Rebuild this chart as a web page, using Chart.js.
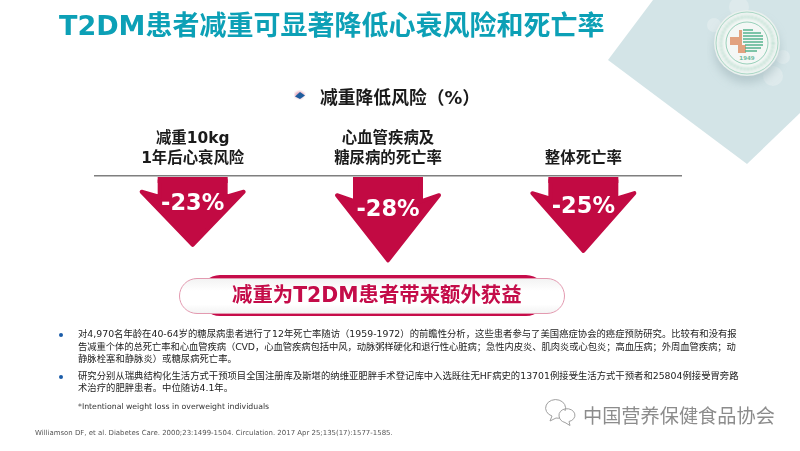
<!DOCTYPE html>
<html>
<head>
<meta charset="utf-8">
<script src="https://cdn.jsdelivr.net/npm/chart.js@4"></script>
<style>
html, body { margin: 0; padding: 0; background: #fff; }
body { width: 800px; height: 451px; position: relative; overflow: hidden; font-family: 'DejaVu Sans', 'Noto Sans CJK SC', sans-serif; }
.t { position: absolute; white-space: nowrap; line-height: 1; }
#deco { position: absolute; left: 0; top: 0; }
#chartBox { position: absolute; left: 0; top: 0; width: 800px; height: 451px; }
#title { left: 59px; top: 12px; font-size: 27px; font-weight: bold; color: #0ca0b6; }
#heading { left: 320px; top: 89px; font-size: 17.8px; font-weight: bold; color: #1a1a1a; }
#pillBack { position: absolute; left: 200px; top: 275px; width: 346px; height: 41px; border-radius: 20px; background: #c60c4a; }
#pillFront { position: absolute; left: 179px; top: 278px; width: 384px; height: 34px; border-radius: 18px; border: 1px solid #e39ab0; background: linear-gradient(#f3f3f3, #fff 35%, #fff 75%, #f3f3f3); }
#pillText { left: 232px; top: 285px; font-size: 20.4px; font-weight: bold; color: #c40c49; }
.small { font-size: 9.35px; color: #222; filter: blur(0.35px); }
.dot { position: absolute; width: 4px; height: 4px; border-radius: 50%; background: #1a5ca8; }
#note { left: 78px; top: 403px; font-size: 7.75px; color: #333; filter: blur(0.35px); }
#ref { left: 35px; top: 430px; font-size: 6.96px; color: #555; filter: blur(0.35px); }
#mark { left: 583px; top: 407px; font-size: 19.2px; color: #8c8c8c; }
</style>
</head>
<body>
<svg id="deco" width="800" height="451" viewBox="0 0 800 451">
  <defs>
    <radialGradient id="disc" cx="50%" cy="50%" r="50%">
      <stop offset="0.8" stop-color="#f4f7f5"/>
      <stop offset="1" stop-color="#e8efed"/>
    </radialGradient>
    <filter id="soft"><feGaussianBlur stdDeviation="5"/></filter>
    <filter id="tiny"><feGaussianBlur stdDeviation="1"/></filter>
  </defs>
  <polygon points="608,60 653,0 800,0 800,113 747,164" fill="#d3e4e7"/>
  <circle cx="739" cy="7" r="10" fill="#deeaec"/>
  <circle cx="714" cy="25" r="7" fill="#deeaec"/>
  <circle cx="783" cy="57" r="7" fill="#deeaec"/>
  <circle cx="773" cy="76" r="10" fill="#deeaec"/>
  <circle cx="747" cy="50" r="33" fill="#a9bec2" opacity="0.7" filter="url(#soft)"/>
  <circle cx="747" cy="43" r="33" fill="url(#disc)"/>
  <circle cx="747" cy="43" r="31" fill="none" stroke="#8ccbb2" stroke-width="0.7"/>
  <circle cx="747" cy="43" r="21" fill="none" stroke="#6fbf9f" stroke-width="0.7"/>
  <g filter="url(#tiny)" opacity="0.6">
    <circle cx="747" cy="43" r="26" fill="none" stroke="#8fcbb4" stroke-width="3.500" stroke-dasharray="2 1.500"/>
  </g>
  <path d="M739 30h3v8h-3zM730 37h12v8h-12zM738 45h8v8h-8z" fill="#e2a27f"/>
  <path d="M743 30h10M743 33h18M743 36h20M743 39h20M743 42h20M745 45h18M745 48h16M745 51h12" stroke="#55b48e" stroke-width="1.400"/>
  <text x="747" y="60" text-anchor="middle" font-size="5.500" font-weight="bold" fill="#6fbb9f">1949</text>
  <path d="M295 93l5 -2 5 3 -4 5 -6 -2z" fill="#e6a9bd" filter="url(#tiny)"/>
  <path d="M295 96.500l5 -4.500 5 3.500 -5 3.500z" fill="#1f5d9e"/>
  <g fill="none" stroke="#a0a0a0" stroke-width="1">
    <path d="M565 411a10 8.500 0 1 0 -13 5l-2 5 6 -3a11 11 0 0 0 4 0"/>
    <path d="M559 416a8 6.500 0 1 1 10 5.500l1 4 -5 -3a8 8 0 0 1 -6 -6.500z"/>
  </g>
</svg>
<div id="chartBox"><canvas id="riskChart"></canvas></div>
<div class="t" id="title">T2DM患者减重可显著降低心衰风险和死亡率</div>
<div class="t" id="heading">减重降低风险（%）</div>
<div id="pillBack"></div>
<div id="pillFront"></div>
<div class="t" id="pillText">减重为T2DM患者带来额外获益</div>
<div class="dot" style="left:59px;top:333px"></div>
<div class="t small" style="left:78px;top:329px">对4,970名年龄在40-64岁的糖尿病患者进行了12年死亡率随访（1959-1972）的前瞻性分析，这些患者参与了美国癌症协会的癌症预防研究。比较有和没有报</div>
<div class="t small" style="left:78px;top:342px;letter-spacing:-0.1px">告减重个体的总死亡率和心血管疾病（CVD，心血管疾病包括中风，动脉粥样硬化和退行性心脏病；急性内皮炎、肌肉炎或心包炎；高血压病；外周血管疾病；动</div>
<div class="t small" style="left:78px;top:354px">静脉栓塞和静脉炎）或糖尿病死亡率。</div>
<div class="dot" style="left:59px;top:375px"></div>
<div class="t small" style="left:78px;top:371px">研究分别从瑞典结构化生活方式干预项目全国注册库及斯堪的纳维亚肥胖手术登记库中入选既往无HF病史的13701例接受生活方式干预者和25804例接受胃旁路</div>
<div class="t small" style="left:78px;top:383px">术治疗的肥胖患者。中位随访4.1年。</div>
<div class="t" id="note">*Intentional weight loss in overweight individuals</div>
<div class="t" id="ref">Williamson DF, et al. Diabetes Care. 2000;23:1499-1504. Circulation. 2017 Apr 25;135(17):1577-1585.</div>
<div class="t" id="mark">中国营养保健食品协会</div>
<script>
const categories = [['减重10kg', '1年后心衰风险'], ['心血管疾病及', '糖尿病的死亡率'], '整体死亡率'];
const riskValues = [-23, -28, -25];

// 箭头: 柱子的位置和长度都取自 scale, 这里只画形状
const arrowPlugin = {
    id: 'arrows',
    afterDatasetsDraw(chart) {
        const ctx = chart.ctx;
        chart.getDatasetMeta(0).data.forEach((bar, i) => {
            let half = bar.width / 2;
            let shaft = half * 0.648;
            let len = bar.y - bar.base;
            let wingY = bar.base + len * 0.22;
            let notchY = bar.base + len * 0.29;
            ctx.save();
            ctx.fillStyle = '#c20a43';
            ctx.strokeStyle = '#c20a43';
            ctx.lineWidth = 4;
            ctx.lineJoin = 'round';
            ctx.beginPath();
            ctx.moveTo(bar.x - shaft + 2, bar.base + 4);
            ctx.lineTo(bar.x + shaft - 2, bar.base + 4);
            ctx.lineTo(bar.x + shaft - 2, notchY);
            ctx.lineTo(bar.x + half - 3, wingY);
            ctx.lineTo(bar.x, bar.y - 3);
            ctx.lineTo(bar.x - half + 3, wingY);
            ctx.lineTo(bar.x - shaft + 2, notchY);
            ctx.closePath();
            ctx.fill();
            ctx.stroke();
            // 顶部是直角, 贴着轴线
            ctx.fillRect(bar.x - shaft, bar.base + 1, shaft * 2, 6);
            ctx.fillStyle = '#fff';
            ctx.font = "bold 22.5px 'DejaVu Sans'";
            ctx.textAlign = 'center';
            ctx.textBaseline = 'middle';
            ctx.fillText(riskValues[i] + '%', bar.x, bar.base + len * 0.37 + 2);
            ctx.restore();
        });
    }
};

new Chart(document.getElementById('riskChart'), {
    type: 'bar',
    data: {
        labels: categories,
        datasets: [{ data: riskValues, backgroundColor: 'transparent', barThickness: 108 }]
    },
    plugins: [arrowPlugin],
    options: {
        responsive: true,
        maintainAspectRatio: false,
        animation: false,
        layout: { padding: { left: 95, right: 119, top: 120, bottom: 181.4 } },
        plugins: { legend: { display: false }, tooltip: { enabled: false } },
        scales: {
            x: {
                position: 'top',
                afterFit: scale => { scale.height = 56; },
                grid: { drawOnChartArea: false, drawTicks: false },
                border: { display: true, color: '#7f7f7f', width: 1.5 },
                ticks: {
                    color: '#1a1a1a',
                    padding: 7,
                    maxRotation: 0,
                    font: { family: "'DejaVu Sans', 'Noto Sans CJK SC'", size: 15.4, weight: 'bold', lineHeight: 1.3 }
                }
            },
            y: { display: false, min: -30, max: 0 }
        }
    }
});
</script>
</body>
</html>
